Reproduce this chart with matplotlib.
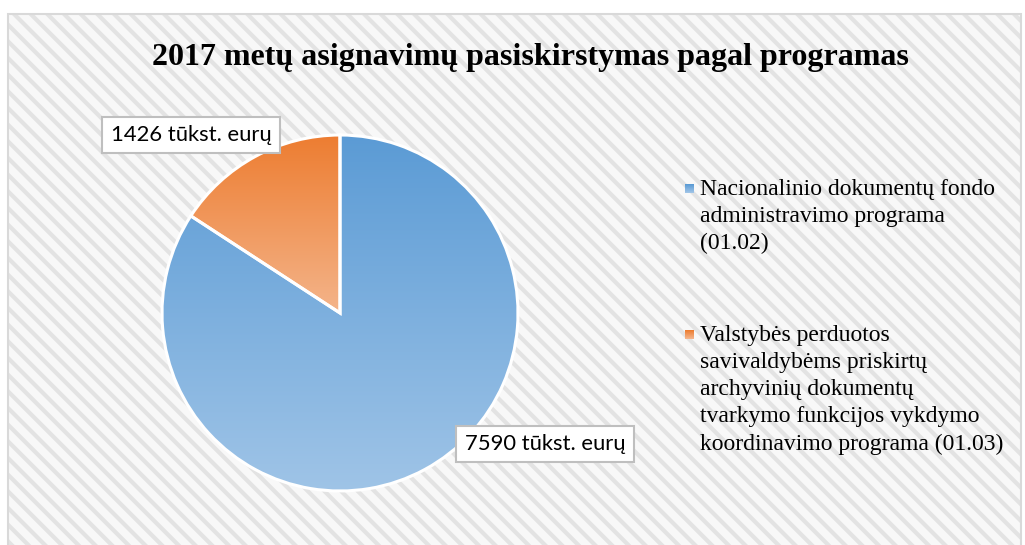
import matplotlib.pyplot as plt
import numpy as np
from matplotlib.patches import Rectangle
from matplotlib.colors import LinearSegmentedColormap

W, H = 1025, 545

title = '2017 metų asignavimų pasiskirstymas pagal programas'
values = [7590, 1426]
data_labels = ['7590 tūkst. eurų', '1426 tūkst. eurų']
legend_labels = [
    'Nacionalinio dokumentų fondo\nadministravimo programa\n(01.02)',
    'Valstybės perduotos\nsavivaldybėms priskirtų\narchyvinių dokumentų\ntvarkymo funkcijos vykdymo\nkoordinavimo programa (01.03)',
]
# gradient top -> bottom per slice
grad_colors = [('#5b9bd5', '#9fc4e7'), ('#ed7d31', '#f4b48a')]

plt.rcParams['hatch.linewidth'] = 3.0

fig = plt.figure(figsize=(W / 100, H / 100), dpi=100)
fig.patch.set_facecolor('white')


def px(x0, y0, w, h):
    # pixel box (top-left origin) -> figure fraction
    return [x0 / W, 1 - (y0 + h) / H, w / W, h / H]


# hatched chart area
bx = px(8, 14, 1013, 540)
fig.patches.append(Rectangle((bx[0], bx[1]), bx[2], bx[3], transform=fig.transFigure,
                             facecolor='#f8f8f8', edgecolor='#e3e3e3', hatch='\\\\',
                             linewidth=0, zorder=-5))
fig.patches.append(Rectangle((bx[0], bx[1]), bx[2], bx[3], transform=fig.transFigure,
                             facecolor='none', edgecolor='#d9d9d9', linewidth=1.5, zorder=-4))

fig.text(530 / W, 1 - 57 / H, title, ha='center', va='center', fontsize=23,
         fontweight='bold', family='Liberation Serif', color='black', zorder=5)

# pie
cx, cy, r = 340, 313, 178
ax = fig.add_axes(px(cx - r, cy - r, 2 * r, 2 * r))
ax.set_zorder(2)
ax.patch.set_visible(False)
wedges, _ = ax.pie(values, startangle=90, counterclock=False, radius=1,
                   wedgeprops=dict(edgecolor='white', linewidth=2.2))
for w, (c1, c2) in zip(wedges, grad_colors):
    w.set_facecolor('none')
    w.set_zorder(3)
    bb = w.get_path().get_extents(w.get_transform() - ax.transData)
    cmap = LinearSegmentedColormap.from_list('g', [c1, c2])
    grad = np.linspace(0, 1, 256).reshape(-1, 1)
    im = ax.imshow(grad, cmap=cmap, aspect='auto', origin='upper',
                   extent=[bb.x0, bb.x1, bb.y0, bb.y1], zorder=1)
    im.set_clip_path(w)
ax.set_xlim(-1, 1)
ax.set_ylim(-1, 1)
ax.set_aspect('equal')
ax.axis('off')

# data labels
lab_pos = [(545, 444), (191, 135)]
for (lx, ly), t in zip(lab_pos, data_labels):
    fig.text(lx / W, 1 - ly / H, t, ha='center', va='center', fontsize=15.8,
             family='Lato', color='black', zorder=6,
             bbox=dict(boxstyle='square,pad=0.38', facecolor='white', edgecolor='#bfbfbf',
                       linewidth=1.5))

# legend
leg_y = [179, 325]
for (c1, c2), lab, ly in zip(grad_colors, legend_labels, leg_y):
    sq = fig.add_axes(px(685, ly + 5, 9, 9))
    sq.set_zorder(2)
    sq.imshow(np.linspace(0, 1, 8).reshape(-1, 1),
              cmap=LinearSegmentedColormap.from_list('g', [c1, c2]), aspect='auto')
    sq.axis('off')
    fig.text(700 / W, 1 - ly / H, lab, ha='left', va='top', fontsize=17,
             family='Liberation Serif', color='black', linespacing=1.38, zorder=5)

fig.savefig('out.png', dpi=100)
